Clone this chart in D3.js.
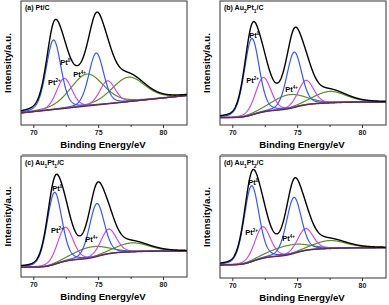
<!DOCTYPE html>
<html>
<head>
<meta charset='UTF-8'>
<title>Pt 4f XPS</title>
<script src='https://d3js.org/d3.v7.min.js'></script>
<style>
  body { margin: 0; background: #fff; }
  svg text { font-family: 'Liberation Sans', Arial, sans-serif; font-weight: bold; }
</style>
</head>
<body>
<div id='chart'></div>
<script>
// binding energy axis
var energyDomain = [69.05, 81.85];
var energyTicks = [70, 75, 80];
var energyMinor = [72.5, 77.5];

// panel titles: [text, subscript, text, subscript, ...]
var title_a = ['(a) Pt/C'];
var title_b = ['(b) Au', '2', 'Pt', '1', '/C'];
var title_c = ['(c) Au', '1', 'Pt', '1', '/C'];
var title_d = ['(d) Au', '1', 'Pt', '2', '/C'];

// fitted components: [centre eV, height above background, fwhm eV]
var pt0_a = [[71.56, 69.6, 1.35], [74.85, 52, 1.35]];
var pt2_a = [[72.38, 30, 1.4], [75.72, 23, 1.4]];
var pt4_a = [[74.13, 32, 3.0], [77.33, 24.5, 3.0]];
var bg_a = [12, 29.5];

var pt0_b = [[71.5, 76.5, 1.35], [74.77, 55.4, 1.35]];
var pt2_b = [[72.38, 34.5, 1.4], [75.67, 24.6, 1.4]];
var pt4_b = [[74.3, 14, 3.0], [77.5, 11.5, 3.0]];
var bg_b = [7.3, 23];

var pt0_c = [[71.63, 72, 1.35], [74.9, 53, 1.35]];
var pt2_c = [[72.46, 34, 1.4], [75.81, 24.7, 1.4]];
var pt4_c = [[74.4, 11, 3.0], [77.63, 9, 3.0]];
var bg_c = [9.7, 26];

var pt0_d = [[71.48, 76, 1.35], [74.75, 56, 1.35]];
var pt2_d = [[72.33, 31.6, 1.4], [75.64, 22, 1.4]];
var pt4_d = [[74.3, 9.5, 3.3], [77.5, 8, 3.0]];
var bg_d = [13, 30.3];

var eta = 0.22; // lorentzian share of the line shape

var W = 389, H = 305;
var svg = d3.select('#chart').append('svg')
  .attr('width', W).attr('height', H);

var panels = [
  {title: title_a, pt0: pt0_a, pt2: pt2_a, pt4: pt4_a, bg: bg_a, shirley: false,
   left: 21, top: 1, h: 124, lab: [[72.07, 60], [71.14, 40], [73.08, 48]]},
  {title: title_b, pt0: pt0_b, pt2: pt2_b, pt4: pt4_b, bg: bg_b, shirley: true,
   left: 220, top: 1, h: 124, lab: [[71.31, 87], [71.08, 42], [74.08, 33]]},
  {title: title_c, pt0: pt0_c, pt2: pt2_c, pt4: pt4_c, bg: bg_c, shirley: true,
   left: 21, top: 156, h: 121, lab: [[71.45, 86], [71.37, 44], [74.0, 35]]},
  {title: title_d, pt0: pt0_d, pt2: pt2_d, pt4: pt4_d, bg: bg_d, shirley: true,
   left: 220, top: 156, h: 122, lab: [[71.23, 93], [71.0, 43], [73.85, 37]]}
];

function voigt(e, p) {
  var t = (e - p[0]) / p[2];
  var g = Math.exp(-4 * Math.LN2 * t * t);
  var l = 1 / (1 + 4 * t * t);
  return p[1] * ((1 - eta) * g + eta * l);
}

var grid = d3.range(energyDomain[0], energyDomain[1] + 0.001, 0.02);

panels.forEach(function(p) {
  var w = 166;
  var x = d3.scaleLinear().domain(energyDomain).range([p.left, p.left + w]);
  var y = d3.scaleLinear().domain([0, p.h]).range([p.top + p.h, p.top]);
  var comps = [].concat(p.pt0, p.pt2, p.pt4);

  var sum = grid.map(function(e) { return d3.sum(comps, function(c) { return voigt(e, c); }); });
  var bg;
  if (p.shirley) {
    var cum = [], acc = 0;
    sum.forEach(function(s) { acc += s; cum.push(acc); });
    bg = cum.map(function(c) { return p.bg[0] + (p.bg[1] - p.bg[0]) * c / acc; });
  } else {
    bg = grid.map(function(e) {
      return p.bg[0] + (p.bg[1] - p.bg[0]) * (e - energyDomain[0]) / (energyDomain[1] - energyDomain[0]);
    });
  }

  var line = d3.line().x(function(d) { return x(d[0]); }).y(function(d) { return y(d[1]); });

  var g = svg.append('g');
  function comp(c, color) {
    g.append('path')
      .datum(grid.map(function(e, i) { return [e, bg[i] + voigt(e, c)]; }))
      .attr('d', line).attr('fill', 'none')
      .attr('stroke', color).attr('stroke-width', 1.2);
  }
  p.pt4.forEach(function(c) { comp(c, '#5f8f1f'); });
  p.pt2.forEach(function(c) { comp(c, '#c94cf5'); });
  p.pt0.forEach(function(c) { comp(c, '#3358ff'); });

  g.append('path')
    .datum(grid.map(function(e, i) { return [e, bg[i]]; }))
    .attr('d', line).attr('fill', 'none')
    .attr('stroke', '#6e2b2b').attr('stroke-width', 1.3);

  g.append('path')
    .datum(grid.map(function(e, i) { return [e, bg[i] + sum[i]]; }))
    .attr('d', line).attr('fill', 'none')
    .attr('stroke', '#000').attr('stroke-width', 1.4);

  // frame
  g.append('rect')
    .attr('x', p.left).attr('y', p.top)
    .attr('width', w).attr('height', p.h)
    .attr('fill', 'none').attr('stroke', '#333').attr('stroke-width', 1);

  // x axis
  var ax = g.append('g').attr('transform', 'translate(0,' + (p.top + p.h) + ')')
    .call(d3.axisBottom(x).tickValues(energyTicks).tickSize(3).tickPadding(2).tickFormat(d3.format('d')));
  ax.select('.domain').remove();
  ax.selectAll('line').attr('stroke', '#333');
  ax.selectAll('text').style('font-size', '7px').attr('fill', '#222');
  var mx = g.append('g').attr('transform', 'translate(0,' + (p.top + p.h) + ')')
    .call(d3.axisBottom(x).tickValues(energyMinor).tickSize(2).tickFormat(''));
  mx.select('.domain').remove();
  mx.selectAll('line').attr('stroke', '#333');

  // titles
  var t = g.append('text').attr('x', p.left + 4).attr('y', p.top + 9).style('font-size', '7px');
  p.title.forEach(function(s, i) {
    var ts = t.append('tspan').text(s);
    if (i % 2 === 1) ts.attr('baseline-shift', 'sub').style('font-size', '5px');
  });

  g.append('text')
    .attr('x', p.left + w / 2 - 1).attr('y', p.top + p.h + 23)
    .attr('text-anchor', 'middle').style('font-size', '9.6px')
    .text('Binding Energy/eV');

  g.append('text')
    .attr('transform', 'translate(' + (p.left - 10) + ',' + (p.top + p.h / 2) + ') rotate(-90)')
    .attr('text-anchor', 'middle').style('font-size', '9.8px')
    .text('Intensity/a.u.');

  var sups = ['0', '2+', '4+'];
  p.lab.forEach(function(l, i) {
    var tx = g.append('text').attr('x', x(l[0])).attr('y', y(l[1])).style('font-size', '7.5px');
    tx.append('tspan').text('Pt');
    tx.append('tspan').attr('dy', -3).style('font-size', '4.5px').text(sups[i]);
  });

  if (p.top < 10) {
    g.append('line')
      .attr('x1', p.left + 1).attr('x2', p.left + w - 1)
      .attr('y1', 154.5).attr('y2', 154.5)
      .attr('stroke', '#999').attr('stroke-width', 1);
  }
});
</script>
</body>
</html>
